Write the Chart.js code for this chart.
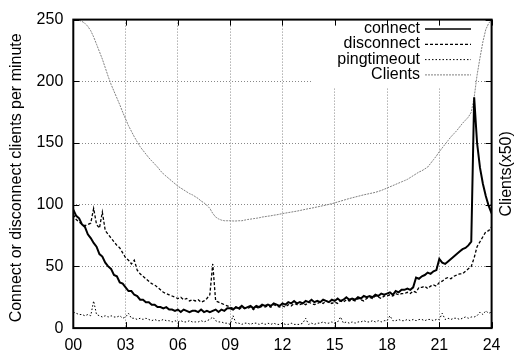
<!DOCTYPE html>
<html>
<head>
<meta charset="utf-8">
<script src="https://cdn.jsdelivr.net/npm/chart.js@4"></script>
<style>
  html, body { margin: 0; padding: 0; background: #fff; }
  canvas { display: block; }
</style>
</head>
<body>
<canvas id="chart" width="517" height="354"></canvas>
<script>
// 10 minute steps over one day
const hours = [];
for (let i = 0; i <= 144; i++) hours.push(i / 6);

const tickLabels = ['00', '03', '06', '09', '12', '15', '18', '21', '24'];

const connect = [
  96, 91, 89, 84, 82, 76,
  73, 69, 66, 60, 58, 53,
  50, 48, 43, 42, 37, 36,
  33, 30, 30, 27, 26, 23,
  23, 21, 21, 19, 19, 17,
  17, 16, 17, 15, 15, 14,
  15, 13, 15, 14, 13, 14,
  14, 13, 15, 13, 14, 13,
  14, 15, 13, 15, 14, 16,
  16, 15, 17, 16, 18, 16,
  17, 18, 16, 18, 17, 19,
  18, 19, 18, 20, 19, 18,
  20, 19, 21, 20, 22, 20,
  21, 20, 22, 21, 23, 21,
  22, 21, 23, 22, 21, 23,
  22, 24, 22, 23, 25, 23,
  24, 23, 25, 24, 26, 25,
  26, 25, 27, 26, 28, 27,
  28, 29, 27, 30, 29, 31,
  31, 32, 31, 33, 41, 40,
  42, 43, 45, 44, 46, 47,
  56, 53, 52, 54, 56, 58,
  60, 62, 64, 65, 67, 70,
  187, 150, 130, 117, 107, 99,
  93
];

const disconnect = [
  92, 88, 86, 84, 83, 84,
  85, 97, 84, 81, 94, 79,
  76, 73, 70, 67, 65, 61,
  57, 55, 52, 55, 47, 44,
  42, 40, 38, 36, 35, 33,
  31, 29, 28, 27, 26, 25,
  24, 25, 23, 24, 22, 23,
  22, 23, 21, 22, 24, 27,
  52, 22, 21, 20, 19, 18,
  17, 16, 17, 15, 17, 16,
  16, 17, 15, 17, 16, 18,
  17, 18, 17, 19, 18, 17,
  18, 17, 19, 18, 20, 19,
  19, 20, 19, 21, 20, 19,
  20, 21, 20, 22, 21, 20,
  21, 20, 22, 21, 23, 22,
  23, 22, 24, 23, 22, 24,
  25, 24, 26, 25, 24, 26,
  26, 27, 26, 28, 27, 28,
  28, 29, 28, 30, 29, 33,
  33, 34, 32, 34, 35, 34,
  37, 38, 40, 41, 40, 42,
  43, 44, 44, 46, 48, 50,
  57, 66, 70, 74, 78, 79,
  82
];

const pingtimeout = [
  13, 12, 11, 11, 10, 11,
  10, 22, 11, 10, 9, 10,
  9, 10, 9, 9, 10, 8,
  9, 12, 8, 8, 7, 8,
  7, 8, 7, 6, 7, 6,
  6, 7, 6, 6, 5, 6,
  5, 6, 5, 5, 6, 5,
  5, 5, 6, 5, 6, 7,
  9, 6, 5, 5, 4, 4,
  3, 10, 4, 4, 3, 4,
  4, 3, 4, 4, 3, 4,
  3, 4, 3, 4, 3, 3,
  4, 3, 3, 4, 3, 3,
  3, 4, 8, 3, 4, 3,
  4, 4, 5, 4, 4, 5,
  4, 5, 9, 4, 5, 4,
  5, 4, 5, 5, 6, 5,
  5, 6, 5, 6, 5, 6,
  6, 10, 6, 6, 7, 6,
  6, 7, 6, 7, 6, 7,
  7, 6, 7, 7, 6, 7,
  7, 12, 7, 8, 7, 8,
  8, 7, 8, 9, 8, 9,
  9, 10, 13, 11, 14, 12,
  13
];

// clients divided by 50
const clients = [
  250, 250, 249.5, 248.5, 247, 244.5,
  241, 236, 230, 224, 218, 211,
  204, 197.5, 192, 186.5, 181, 175,
  169.5, 164, 159.5, 155, 151, 147,
  144, 141, 138, 135.5, 133, 130.5,
  127.5, 125, 123, 121, 119, 117,
  115, 113.5, 112, 110.5, 109, 108,
  106.5, 105, 103, 101.5, 99.5, 97,
  93, 90, 88.5, 87.5, 87, 87,
  87, 86.8, 86.8, 87, 87, 87.5,
  88, 88.3, 88.7, 89, 89.4, 90,
  90.3, 90.7, 91, 91.5, 91.8, 92.3,
  92.8, 93.2, 93.6, 94, 94.4, 94.8,
  95.3, 95.8, 96.3, 96.8, 97.2, 97.7,
  98.2, 98.7, 99.2, 99.7, 100.3, 100.8,
  101.5, 102.2, 102.9, 103.6, 104.3, 105,
  105.6, 106.2, 106.8, 107.4, 108, 108.5,
  109, 109.5, 110, 110.8, 111.5, 112.5,
  113.5, 114.5, 115.5, 116.5, 117.5, 118.5,
  119.5, 120.5, 122, 123.5, 125, 126.5,
  127.5, 129, 130.5, 133.5, 136.5, 139.5,
  143, 146, 149, 152, 155, 157.5,
  160, 163, 166, 168.5, 171, 175,
  187, 205, 219, 232, 242, 247,
  250
];

const FONT = '"Liberation Sans", Arial, sans-serif';

const gnuplotLook = {
  id: 'gnuplotLook',
  beforeDatasetsDraw(chart) {
    const c = chart.ctx;
    c.save();
    c.fillStyle = '#fff';
    c.fillRect(313, chart.chartArea.top + 1, 162, 67);
    c.restore();
  },
  afterDatasetsDraw(chart) {
    const c = chart.ctx, a = chart.chartArea;
    const xs = chart.scales.x, ys = chart.scales.y;
    c.save();
    c.strokeStyle = '#000';
    c.lineWidth = 1;
    c.beginPath();
    xs.ticks.forEach(t => {
      const px = Math.round(xs.getPixelForValue(t.value)) + 0.5;
      c.moveTo(px, a.bottom); c.lineTo(px, a.bottom - 6);
      c.moveTo(px, a.top); c.lineTo(px, a.top + 6);
    });
    ys.ticks.forEach(t => {
      const py = Math.round(ys.getPixelForValue(t.value)) + 0.5;
      c.moveTo(a.left, py); c.lineTo(a.left + 6, py);
      c.moveTo(a.right, py); c.lineTo(a.right - 6, py);
    });
    c.stroke();
    c.lineWidth = 2;
    c.strokeRect(a.left, a.top, a.right - a.left, a.bottom - a.top);

    // key, text on the left and sample on the right
    c.font = '16px ' + FONT;
    c.textAlign = 'right';
    c.textBaseline = 'middle';
    chart.data.datasets.forEach((ds, i) => {
      const y = 28.5 + i * 15.3;
      c.fillStyle = '#000';
      c.fillText(ds.label, 420, y);
      c.strokeStyle = ds.borderColor;
      c.lineWidth = Math.min(ds.borderWidth, 1.5);
      c.setLineDash(ds.borderDash || []);
      c.beginPath(); c.moveTo(425, y + 0.5); c.lineTo(471, y + 0.5); c.stroke();
    });
    c.setLineDash([]);

    // axis titles
    const midY = (a.top + a.bottom) / 2;
    c.textAlign = 'center';
    c.textBaseline = 'alphabetic';
    c.translate(20.5, midY + 4);
    c.rotate(-Math.PI / 2);
    c.fillText('Connect or disconnect clients per minute', 0, 0);
    c.rotate(Math.PI / 2);
    c.translate(511 - 20.5, -4);
    c.rotate(-Math.PI / 2);
    c.fillText('Clients(x50)', 0, 0);
    c.restore();
  }
};

const ctx = document.getElementById('chart').getContext('2d');
const chart = new Chart(ctx, {
  type: 'line',
  data: {
    labels: hours,
    datasets: [
      { label: 'connect', data: connect, borderColor: '#000', borderWidth: 2 },
      { label: 'disconnect', data: disconnect, borderColor: '#000', borderWidth: 1.3, borderDash: [3, 2] },
      { label: 'pingtimeout', data: pingtimeout, borderColor: '#000', borderWidth: 1, borderDash: [1.5, 2] },
      { label: 'Clients', data: clients, borderColor: '#808080', borderWidth: 1, borderDash: [2, 1] }
    ]
  },
  options: {
    responsive: false,
    animation: false,
    layout: { padding: { top: 14.6, right: 25.4, left: 0, bottom: 0 } },
    elements: { point: { radius: 0 }, line: { tension: 0 } },
    plugins: { legend: { display: false }, tooltip: { enabled: false } },
    scales: {
      x: {
        type: 'linear', min: 0, max: 24,
        ticks: {
          stepSize: 3, color: '#000', padding: 8, maxRotation: 0,
          font: { family: FONT, size: 16 },
          callback: (v, i) => tickLabels[i]
        },
        grid: { color: '#888', drawTicks: false },
        border: { display: false, dash: [1, 2] },
        afterFit: s => { s.height = 25.9; }
      },
      y: {
        min: 0, max: 250,
        ticks: { stepSize: 50, color: '#000', padding: 10, font: { family: FONT, size: 16 } },
        grid: { color: '#888', drawTicks: false },
        border: { display: false, dash: [1, 2] },
        afterFit: s => { s.width = 73.3; }
      }
    }
  },
  plugins: [gnuplotLook]
});
</script>
</body>
</html>
